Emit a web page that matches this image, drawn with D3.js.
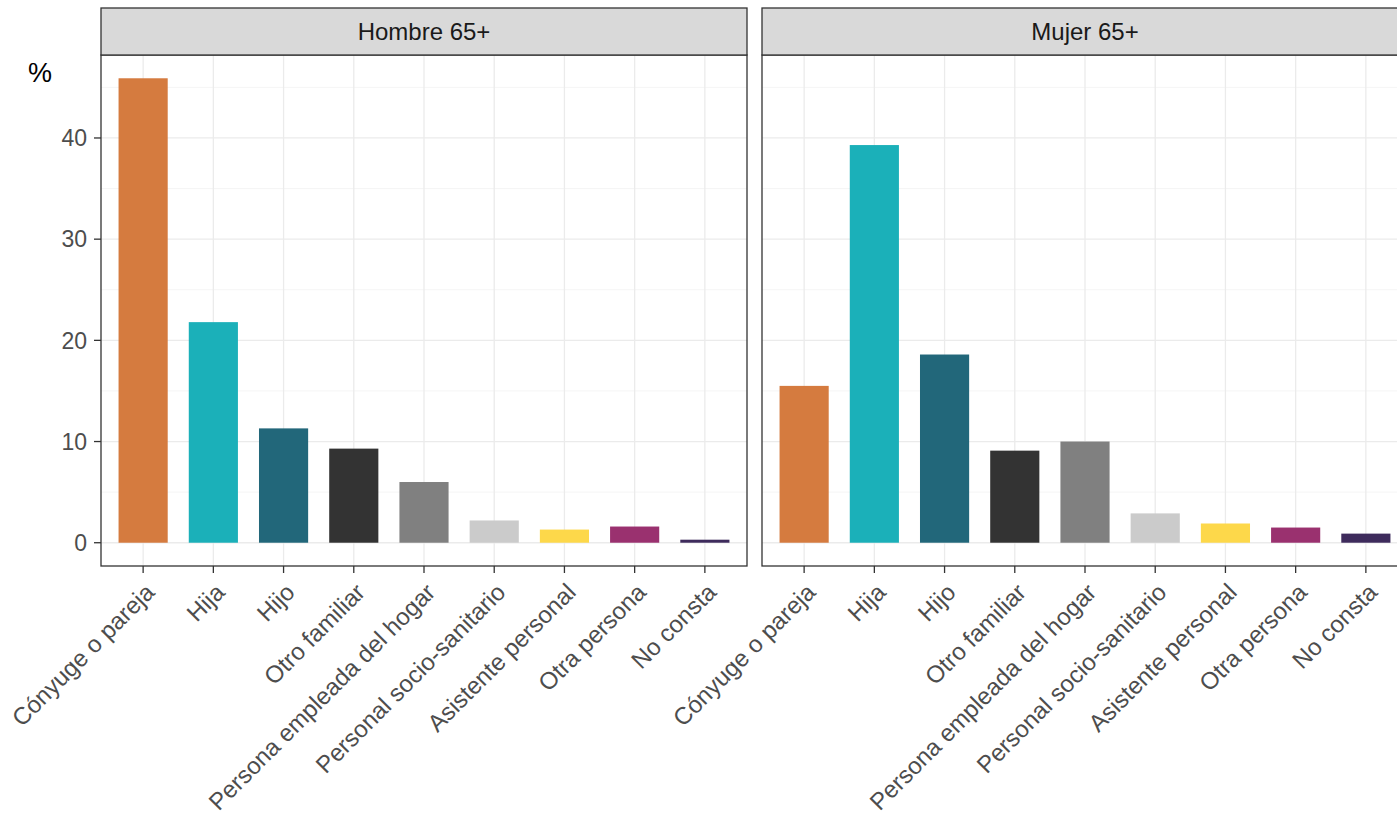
<!DOCTYPE html>
<html><head><meta charset="utf-8">
<script src="https://cdn.jsdelivr.net/npm/d3@7"></script>
<style>body{margin:0;background:#fff;} svg{display:block;font-family:"Liberation Sans",Arial,sans-serif;}</style>
</head><body>
<svg id="chart" width="1397" height="814"></svg>
<script>
const categories = ["Cónyuge o pareja","Hija","Hijo","Otro familiar","Persona empleada del hogar","Personal socio-sanitario","Asistente personal","Otra persona","No consta"];
const panels = ["Hombre 65+","Mujer 65+"];
const hombreValues = [45.9,21.8,11.3,9.3,6.0,2.2,1.3,1.6,0.3];
const mujerValues = [15.5,39.3,18.6,9.1,10.0,2.9,1.9,1.5,0.9];
const colors = ["#D57B3F","#1BB0B9","#22677A","#333333","#808080","#CBCBCB","#FDD84A","#9A316F","#3E2B5C"];
const yTicks = [0,10,20,30,40];
const yMinor = [5,15,25,35,45];

(function(){
const svg = d3.select("#chart");
const panelW = 646, pTop = 55, pBottom = 566, stripTop = 8;
const panelX = [101, 762];
const series = [hombreValues, mujerValues];

const y = d3.scaleLinear().domain([-2.3, 48.2]).range([pBottom, pTop]);

panels.forEach((name, pi) => {
  const x0 = panelX[pi];
  const unit = panelW / 9.2;
  const x = d3.scalePoint().domain(categories).range([x0 + 0.6 * unit, x0 + panelW - 0.6 * unit]);
  const xc = c => x(c);
  const g = svg.append("g");
  g.append("rect").attr("x", x0).attr("y", pTop).attr("width", panelW).attr("height", pBottom - pTop).attr("fill", "#fff");
  g.selectAll(".ymin").data(yMinor).join("line")
    .attr("x1", x0).attr("x2", x0 + panelW).attr("y1", d => y(d)).attr("y2", d => y(d))
    .attr("stroke", "#F2F2F2").attr("stroke-width", 0.8);
  g.selectAll(".ymaj").data(yTicks).join("line")
    .attr("x1", x0).attr("x2", x0 + panelW).attr("y1", d => y(d)).attr("y2", d => y(d))
    .attr("stroke", "#EBEBEB").attr("stroke-width", 1.3);
  g.selectAll(".xmaj").data(categories).join("line")
    .attr("x1", d => xc(d)).attr("x2", d => xc(d)).attr("y1", pTop).attr("y2", pBottom)
    .attr("stroke", "#EBEBEB").attr("stroke-width", 1.3);
  const vals = series[pi];
  g.selectAll(".bar").data(categories).join("rect")
    .attr("x", d => xc(d) - 0.35 * unit).attr("width", 0.7 * unit)
    .attr("y", (d, i) => y(vals[i])).attr("height", (d, i) => y(0) - y(vals[i]))
    .attr("fill", (d, i) => colors[i]);
  g.append("rect").attr("x", x0).attr("y", pTop).attr("width", panelW).attr("height", pBottom - pTop)
    .attr("fill", "none").attr("stroke", "#333333").attr("stroke-width", 1.3);
  g.append("rect").attr("x", x0).attr("y", stripTop).attr("width", panelW).attr("height", pTop - stripTop)
    .attr("fill", "#D9D9D9").attr("stroke", "#333333").attr("stroke-width", 1.3);
  g.append("text").attr("x", x0 + panelW / 2).attr("y", (stripTop + pTop) / 2).attr("dy", "0.36em")
    .attr("text-anchor", "middle").attr("font-size", 24).attr("fill", "#1A1A1A").text(name);
  g.selectAll(".xt").data(categories).join("line")
    .attr("x1", d => xc(d)).attr("x2", d => xc(d)).attr("y1", pBottom).attr("y2", pBottom + 7)
    .attr("stroke", "#333333").attr("stroke-width", 1.3);
  g.selectAll(".xl").data(categories).join("text")
    .attr("transform", d => `translate(${xc(d)},${pBottom + 15}) rotate(-45)`)
    .attr("text-anchor", "end").attr("dy", "0.75em")
    .attr("font-size", 24).attr("fill", "#4D4D4D").text(d => d);
  if (pi === 0) {
    g.selectAll(".yt").data(yTicks).join("line")
      .attr("x1", x0 - 7).attr("x2", x0).attr("y1", d => y(d)).attr("y2", d => y(d))
      .attr("stroke", "#333333").attr("stroke-width", 1.3);
    g.selectAll(".yl").data(yTicks).join("text")
      .attr("x", x0 - 14).attr("y", d => y(d)).attr("dy", "0.36em").attr("text-anchor", "end")
      .attr("font-size", 23).attr("fill", "#4D4D4D").text(d => d);
  }
});
svg.append("text").attr("x", 40).attr("y", 72).attr("dy", "0.36em").attr("text-anchor", "middle")
  .attr("font-size", 27).attr("fill", "#000").text("%");
})();
</script>
</body></html>
